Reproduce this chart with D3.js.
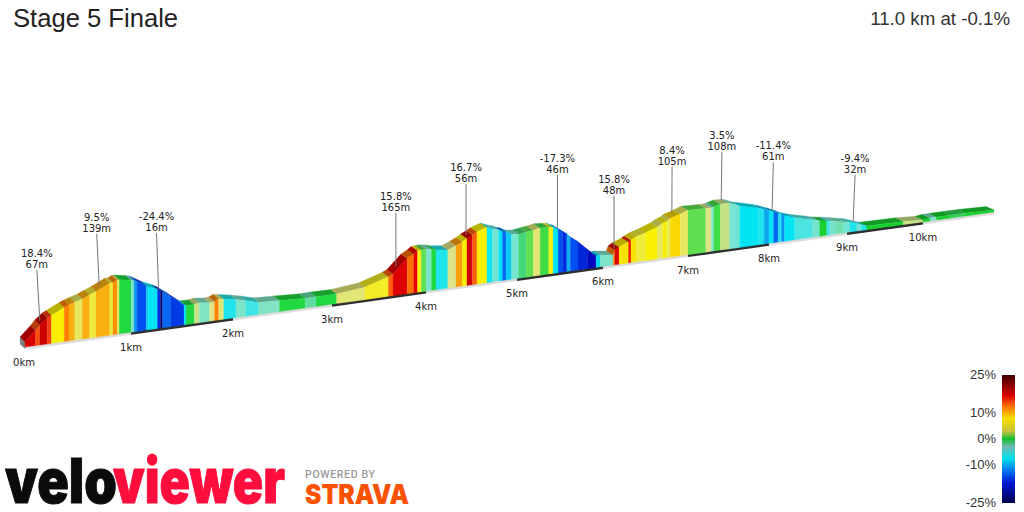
<!DOCTYPE html>
<html>
<head>
<meta charset="utf-8">
<script src="https://cdn.jsdelivr.net/npm/d3@7/dist/d3.min.js"></script>
<style>
  html, body { margin: 0; padding: 0; background: #fff; overflow: hidden; }
  text { font-family: "DejaVu Sans", sans-serif; fill: #222; }
</style>
</head>
<body>
<svg id="chart" width="1024" height="512"></svg>
<script>
// profile breakpoints
var distKm = [0,.1,.14,.21,.25,.37,.415,.47,.54,.61,.67,.8,.83,.87,.89,1,
    1.03,1.06,1.15,1.17,1.26,1.29,1.31,1.39,1.52,1.54,1.62,1.67,1.77,1.82,1.86,1.91,
    2.03,2.13,2.26,2.47,2.73,2.84,3.05,3.35,3.6,3.65,3.8,3.87,3.91,3.95,
    4,4.06,4.11,4.24,4.33,4.4,4.45,4.51,4.56,4.67,4.73,4.8,4.84,4.88,4.94,
    5.02,5.11,5.19,5.27,5.37,5.42,5.48,5.53,5.58,5.62,5.71,5.82,5.92,5.97,
    6.12,6.14,6.19,6.3,6.33,6.39,6.5,6.64,6.7,6.76,6.79,6.91,
    7,7.22,7.29,7.32,7.4,7.51,7.55,7.64,7.87,7.94,
    8,8.06,8.12,8.16,8.2,8.33,8.56,8.65,8.74,8.78,8.85,8.96,
    9.04,9.13,9.19,9.26,9.74,10,10.1,10.19,10.38,10.6,11];

var elevation = [6,16,21,27,29,35,37,39,41,44,46.5,53,53,55,55,53,
    52,50.5,45,44,40,38,37,31,20.6,20,20,21,19.5,20,22,21,
    19,16.6,13,12,10.7,10.8,10.6,13.3,20.7,22.8,36.4,39.9,42.6,42.8,
    42.9,42,40.7,39,42.3,45.3,48,50.6,53.3,56.3,53.9,52,49.8,49,46,
    45,46.2,47,48.3,47.7,47,44.6,41.3,38.4,34.6,29,20,12.3,12.8,
    11,15.7,18.5,22,23.5,26,28.8,33,36,37.7,39.7,42.7,
    45.5,44.8,44.6,45.3,47.2,46.6,45.4,42.4,37.6,35.8,
    33.7,32,29.8,28.6,26.3,22.9,18.4,16.6,15.4,14.9,13.9,12,
    10.8,8.5,6.5,4.8,4.2,3,4,4,4,4,3];

// gradient of the stretch that starts at each breakpoint
var gradient = [16,12.5,17,13,7.5,11,9.5,5,9.5,6,9.5,6,10.5,5,1,
    -3,-11,-14,-9,-8,-17,-24.4,-13,-16,-8,1,3.5,-2.5,4,11,4.5,-7,
    -3,-6,-2.5,1,-1.5,1,4.5,6.5,12,15.8,11.5,15,7,2,
    -3,1,-7,4,10,7.5,16.7,12,7.5,-7.5,-4,-8,-13,-9,-3.5,
    -.8,2,4.5,1.5,7,-8,-14,-17.3,-10,-14,-18,-21,-8.5,-3,
    11,15.8,8,14,8,6,7.5,5,7,5,8.4,5,
    2,4,-3,1.5,3.5,-3,-4,-8,-7,-10.5,
    -8,-13,-7,-11.4,-8,-5.5,-3.5,.5,-6,-3.5,-2,-4,
    -7,-4,-7,.5,3.5,.5,-3,.5,-.5,.5];

var kmTicks = [0,1,2,3,4,5,6,7,8,9,10,11];
var kmPixels = [25,131,233,332,426,517,603,688,769,847,923,994];

var climbKm = [.14,.7,1.27,3.68,4.44,5.47,6.13,6.81,7.41,8.04,9.08];
var climbGrade = ["18.4%","9.5%","-24.4%","15.8%","16.7%","-17.3%","15.8%","8.4%","3.5%","-11.4%","-9.4%"];
var climbLength = ["67m","139m","16m","165m","56m","46m","48m","105m","108m","61m","32m"];

var gradeStops = [-25,-21,-17,-14,-12,-10,-8,-6,-4,-2.5,-1,0,1,2,3,4,5,7.5,8.4,9.5,11,12.5,15,18,25];
var gradeColors = ["#000050","#0008c0","#0030e0","#0050f0","#0c80f0","#10b0f0","#00e4f4","#40e4e4","#70e4d4",
    "#80e4c4","#50d890","#10c820","#20d840","#60e050","#b0e080","#dce488","#e8e860","#f8f000","#f8d800",
    "#f8b010","#ff8000","#f85010","#e80000","#c00000","#400000"];

var legendTicks = [25,10,0,-10,-25];
var legendStops = [-25,-17,-11.5,-7.5,-3,0,3,8,12.5,17,25];
var legendColors = ["#00004a","#0018d8","#0088f0","#00e0e8","#70b8b0","#10c030","#c8c040","#f8e000","#ff7800","#d80000","#400000"];

// how far each call-out stands off the profile, in px
var legLength = [51,52,56,54,51,53,53,47,48,48,47];

var svg = d3.select("#chart");

var color = d3.scaleLinear().domain(gradeStops).range(gradeColors);
var xKm = d3.scaleLinear().domain(kmTicks).range(kmPixels);
var baseY = d3.scaleLinear().domain([25, 994]).range([348, 213]);
var elevPx = d3.scaleLinear().domain([0, 60]).range([0, 60]);

// the ribbon on top runs back and to the left, flatter towards the far end
var depthX = d3.scaleLinear().domain([25, 994]).range([-5, -8]);
var depthY = d3.scaleLinear().domain([25, 994]).range([-5, -3.5]);

function front(i) {
    var x = xKm(distKm[i]);
    return [x, baseY(x) - elevPx(elevation[i])];
}

function back(i) {
    var p = front(i);
    return [p[0] + depthX(p[0]), p[1] + depthY(p[0])];
}

function shade(c) {
    c = d3.rgb(c);
    return d3.rgb(c.r * .74, c.g * .74, c.b * .74);
}

var segments = d3.range(gradient.length);
var line = d3.line();

// left end cap
var p0 = front(0), b0 = back(0);
svg.append("path")
    .attr("d", line([p0, [p0[0], baseY(p0[0]) + 1], [b0[0], baseY(p0[0]) + 1 + depthY(p0[0])], b0]) + "Z")
    .attr("fill", "#7d7d7d");

// km bands along the foot of the profile
svg.append("g").selectAll("path")
    .data(d3.range(kmTicks.length - 1))
    .enter().append("path")
    .attr("d", function(k) {
        var a = xKm(kmTicks[k]), b = xKm(kmTicks[k + 1]);
        return line([[a, baseY(a)], [b, baseY(b)]]);
    })
    .attr("stroke", function(k) { return k % 2 ? "#2e2e2e" : "#dcdcdc"; })
    .attr("stroke-width", 3)
    .attr("fill", "none");

// top ribbon goes first so the faces cover it on the descents
svg.append("g").selectAll("path")
    .data(segments)
    .enter().append("path")
    .attr("d", function(i) {
        return line([front(i), front(i + 1), back(i + 1), back(i)]) + "Z";
    })
    .attr("fill", function(i) { return shade(color(gradient[i])); })
    .attr("stroke", function(i) { return shade(color(gradient[i])); })
    .attr("stroke-width", .3);

svg.append("g").selectAll("path")
    .data(segments)
    .enter().append("path")
    .attr("d", function(i) {
        var a = front(i), b = front(i + 1);
        return line([a, b, [b[0], baseY(b[0]) - 1], [a[0], baseY(a[0]) - 1]]) + "Z";
    })
    .attr("fill", function(i) { return color(gradient[i]); })
    .attr("stroke", function(i) { return color(gradient[i]); })
    .attr("stroke-width", .3);

// km labels
svg.append("g").selectAll("text")
    .data(kmTicks.slice(0, -1))
    .enter().append("text")
    .attr("x", function(d) { return xKm(d) - (d === 0 ? 1 : 0); })
    .attr("y", function(d) { return baseY(xKm(d)) + 18; })
    .attr("text-anchor", "middle")
    .attr("font-size", 10)
    .text(function(d) { return d + "km"; });

// climb call-outs
var lean = d3.scaleLinear().domain([40, 400, 650, 853]).range([-3, 0, 0, 2]);
var bisect = d3.bisector(function(d) { return d; }).right;

function calloutFoot(k) {
    var i = Math.min(bisect(distKm, k) - 1, gradient.length - 1);
    var t = (k - distKm[i]) / (distKm[i + 1] - distKm[i]);
    var x = xKm(k);
    var h = elevation[i] + t * (elevation[i + 1] - elevation[i]);
    return [x, baseY(x) - elevPx(h) - (gradient[i] < 0 ? 1 : 4)];
}

function calloutX(i) {
    var f = calloutFoot(climbKm[i]);
    return f[0] + lean(f[0]);
}

function calloutTop(i) {
    return calloutFoot(climbKm[i])[1] - legLength[i];
}

var callouts = svg.append("g").selectAll("g")
    .data(d3.range(climbKm.length))
    .enter().append("g");

callouts.append("line")
    .attr("x1", function(i) { return calloutFoot(climbKm[i])[0]; })
    .attr("y1", function(i) { return calloutFoot(climbKm[i])[1]; })
    .attr("x2", calloutX)
    .attr("y2", calloutTop)
    .attr("stroke", "#777")
    .attr("stroke-width", 1);

callouts.append("text")
    .attr("x", calloutX)
    .attr("y", function(i) { return calloutTop(i) - 13; })
    .attr("text-anchor", "middle")
    .attr("font-size", 10)
    .text(function(i) { return climbGrade[i]; });

callouts.append("text")
    .attr("x", calloutX)
    .attr("y", function(i) { return calloutTop(i) - 2; })
    .attr("text-anchor", "middle")
    .attr("font-size", 10)
    .text(function(i) { return climbLength[i]; });

// titles
svg.append("text")
    .attr("x", 13).attr("y", 27)
    .style("font-family", "'Liberation Sans', sans-serif")
    .attr("font-size", 25.6)
    .text("Stage 5 Finale");

svg.append("text")
    .attr("x", 1010).attr("y", 25)
    .attr("text-anchor", "end")
    .style("font-family", "'Liberation Sans', sans-serif")
    .style("fill", "#333")
    .attr("font-size", 18.7)
    .text("11.0 km at -0.1%");

// gradient legend
var legendY = d3.scaleLinear().domain([25, -25]).range([375, 503]);
var grad = svg.append("defs").append("linearGradient")
    .attr("id", "legendGradient")
    .attr("x1", 0).attr("x2", 0).attr("y1", 1).attr("y2", 0);

grad.selectAll("stop")
    .data(legendStops)
    .enter().append("stop")
    .attr("offset", function(d) { return (d + 25) / 50; })
    .attr("stop-color", function(d, i) { return legendColors[i]; });

svg.append("rect")
    .attr("x", 1002).attr("y", legendY(25))
    .attr("width", 13).attr("height", legendY(-25) - legendY(25))
    .attr("fill", "url(#legendGradient)");

svg.append("g").selectAll("text")
    .data(legendTicks)
    .enter().append("text")
    .attr("x", 996)
    .attr("y", function(d) { return legendY(d) + 4; })
    .attr("text-anchor", "end")
    .style("font-family", "'Liberation Sans', sans-serif")
    .style("fill", "#333")
    .attr("font-size", 13)
    .text(function(d) { return d + "%"; });

// logos
svg.append("text")
    .attr("x", 5).attr("y", 503)
    .attr("textLength", 112)
    .attr("lengthAdjust", "spacingAndGlyphs")
    .style("font-family", "Inter, Roboto, sans-serif")
    .style("font-weight", 900)
    .style("fill", "#0b0b0b")
    .style("stroke", "#0b0b0b")
    .attr("font-size", 62)
    .text("velo");

svg.append("text")
    .attr("x", 113).attr("y", 503)
    .attr("textLength", 172)
    .attr("lengthAdjust", "spacingAndGlyphs")
    .style("font-family", "Inter, Roboto, sans-serif")
    .style("font-weight", 900)
    .style("fill", "#ff0d3d")
    .style("stroke", "#ff0d3d")
    .attr("font-size", 62)
    .text("viewer");

svg.append("text")
    .attr("x", 305).attr("y", 478)
    .attr("textLength", 70)
    .style("font-family", "Roboto, sans-serif")
    .style("font-weight", 500)
    .style("fill", "#9a9a9a")
    .attr("font-size", 10.5)
    .text("POWERED BY");

svg.append("text")
    .attr("x", 305).attr("y", 504)
    .attr("textLength", 104)
    .attr("lengthAdjust", "spacingAndGlyphs")
    .style("font-family", "Inter, Roboto, sans-serif")
    .style("font-weight", 900)
    .style("fill", "#fc5200")
    .attr("font-size", 27)
    .text("STRAVA");
</script>
</body>
</html>
